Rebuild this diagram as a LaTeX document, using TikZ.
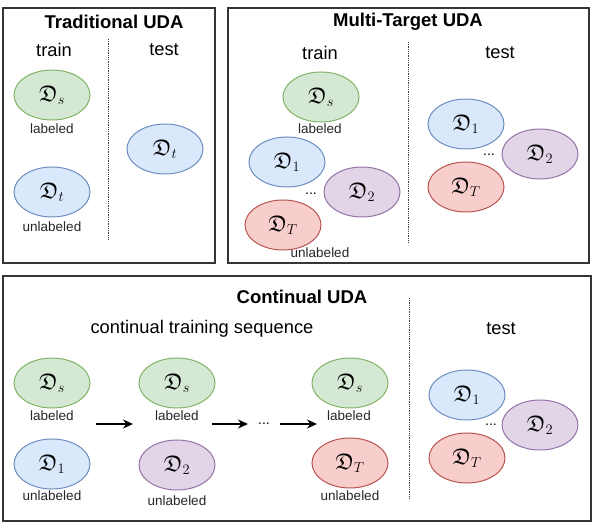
\documentclass[tikz,border=0pt]{standalone}
\usepackage{amssymb}
\usepackage{fontspec}
\usetikzlibrary{shapes.geometric,arrows.meta}
\newfontfamily\lsans{Liberation Sans}
\definecolor{gF}{HTML}{D5E8D4}\definecolor{gD}{HTML}{82B366}
\definecolor{bF}{HTML}{DAE8FC}\definecolor{bD}{HTML}{6C8EBF}
\definecolor{pF}{HTML}{E1D5E7}\definecolor{pD}{HTML}{9673A6}
\definecolor{rF}{HTML}{F8CECC}\definecolor{rD}{HTML}{B85450}
\definecolor{boxc}{HTML}{363636}
\tikzset{
  panel/.style={draw=boxc, line width=1.3pt},
  sepline/.style={draw=black!75, line width=0.8pt, dash pattern=on 0.9pt off 0.9pt},
  ttl/.style={font=\lsans\bfseries\fontsize{18.5}{22}\selectfont, inner sep=0pt},
  hdr/.style={font=\lsans\fontsize{18.3}{22}\selectfont, inner sep=0pt},
  lab/.style={font=\lsans\fontsize{13.5}{16}\selectfont, inner sep=0pt, text=black!85},
  dotsl/.style={font=\lsans\fontsize{14}{16}\selectfont, inner sep=0pt},
  dom/.style={ellipse, minimum width=76pt, minimum height=50pt, inner sep=0pt, line width=1pt, font=\fontsize{22.5}{26}\selectfont},
  srcdom/.style={dom, draw=gD, fill=gF},
  onedom/.style={dom, draw=bD, fill=bF},
  twodom/.style={dom, draw=pD, fill=pF},
  tdom/.style={dom, draw=rD, fill=rF},
  seqarrow/.style={-{Stealth[length=10pt,width=9pt]}, line width=1.3pt, black}
}
\begin{document}
\begin{tikzpicture}[x=1pt,y=-1pt]
\useasboundingbox (0,0) rectangle (598,526);
% ---------- Traditional UDA ----------
\draw[panel] (3,8) rectangle (215,263);
\node[ttl] (t1) at (114,22) {Traditional UDA};
\node[hdr] (tr1) at (54,50) {train};
\node[hdr] (te1) at (164,50) {test};
\coordinate (s1a) at (108,39); \coordinate (s1b) at (108,239);
\draw[sepline] (s1a) -- (s1b);
\node[srcdom] (a-s) at (52,95) {$\mathfrak{D}_s$};
\node[lab] (a-l) at (52,129) {labeled};
\node[onedom] (a-t) at (52,192) {$\mathfrak{D}_t$};
\node[lab] (a-u) at (52,227) {unlabeled};
\node[onedom] (a-tt) at (165,149) {$\mathfrak{D}_t$};
% ---------- Multi-Target UDA ----------
\draw[panel] (228,8) rectangle (589,263);
\node[ttl] (t2) at (408,22) {Multi-Target UDA};
\node[hdr] (tr2) at (320,53) {train};
\node[hdr] (te2) at (500,53) {test};
\coordinate (s2a) at (408,42); \coordinate (s2b) at (408,242);
\draw[sepline] (s2a) -- (s2b);
\node[srcdom] (b-s) at (321,97) {$\mathfrak{D}_s$};
\node[lab] (b-l) at (320,129) {labeled};
\node[onedom] (b-1) at (287,162) {$\mathfrak{D}_1$};
\node[twodom] (b-2) at (362,192) {$\mathfrak{D}_2$};
\node[dotsl] (b-d) at (311,194) {...};
\node[tdom] (b-T) at (283,225) {$\mathfrak{D}_T$};
\node[lab] (b-u) at (320,253) {unlabeled};
\node[onedom] (b-t1) at (466,124) {$\mathfrak{D}_1$};
\node[twodom] (b-t2) at (540,154) {$\mathfrak{D}_2$};
\node[dotsl] (b-td) at (489,155) {...};
\node[tdom] (b-tT) at (466,187) {$\mathfrak{D}_T$};
% ---------- Continual UDA ----------
\draw[panel] (3,276) rectangle (591,521);
\node[ttl] (t3) at (302,297) {Continual UDA};
\node[hdr] (tr3) at (202,329) {continual training sequence};
\node[hdr] (te3) at (501,329) {test};
\coordinate (s3a) at (409,298); \coordinate (s3b) at (409,499);
\draw[sepline] (s3a) -- (s3b);
\node[srcdom] (c-s1) at (52,383) {$\mathfrak{D}_s$};
\node[lab] (c-l1) at (52,416) {labeled};
\node[onedom] (c-1) at (52,464) {$\mathfrak{D}_1$};
\node[lab] (c-u1) at (52,496) {unlabeled};
\node[srcdom] (c-s2) at (177,383) {$\mathfrak{D}_s$};
\node[lab] (c-l2) at (177,416) {labeled};
\node[twodom] (c-2) at (177,465) {$\mathfrak{D}_2$};
\node[lab] (c-u2) at (177,501) {unlabeled};
\node[srcdom] (c-s3) at (350,383) {$\mathfrak{D}_s$};
\node[lab] (c-l3) at (349,416) {labeled};
\node[tdom] (c-T) at (350,463) {$\mathfrak{D}_T$};
\node[lab] (c-u3) at (350,496) {unlabeled};
\coordinate (ar1a) at (96,424); \coordinate (ar1b) at (133,424);
\coordinate (ar2a) at (212,424); \coordinate (ar2b) at (248,424);
\coordinate (ar3a) at (280,424); \coordinate (ar3b) at (317,424);
\draw[seqarrow] (ar1a) -- (ar1b);
\draw[seqarrow] (ar2a) -- (ar2b);
\node[dotsl] (c-d) at (264,424) {...};
\draw[seqarrow] (ar3a) -- (ar3b);
\node[onedom] (c-t1) at (467,395) {$\mathfrak{D}_1$};
\node[twodom] (c-t2) at (540,425) {$\mathfrak{D}_2$};
\node[dotsl] (c-td) at (491,425) {...};
\node[tdom] (c-tT) at (467,458) {$\mathfrak{D}_T$};
\end{tikzpicture}
\end{document}
